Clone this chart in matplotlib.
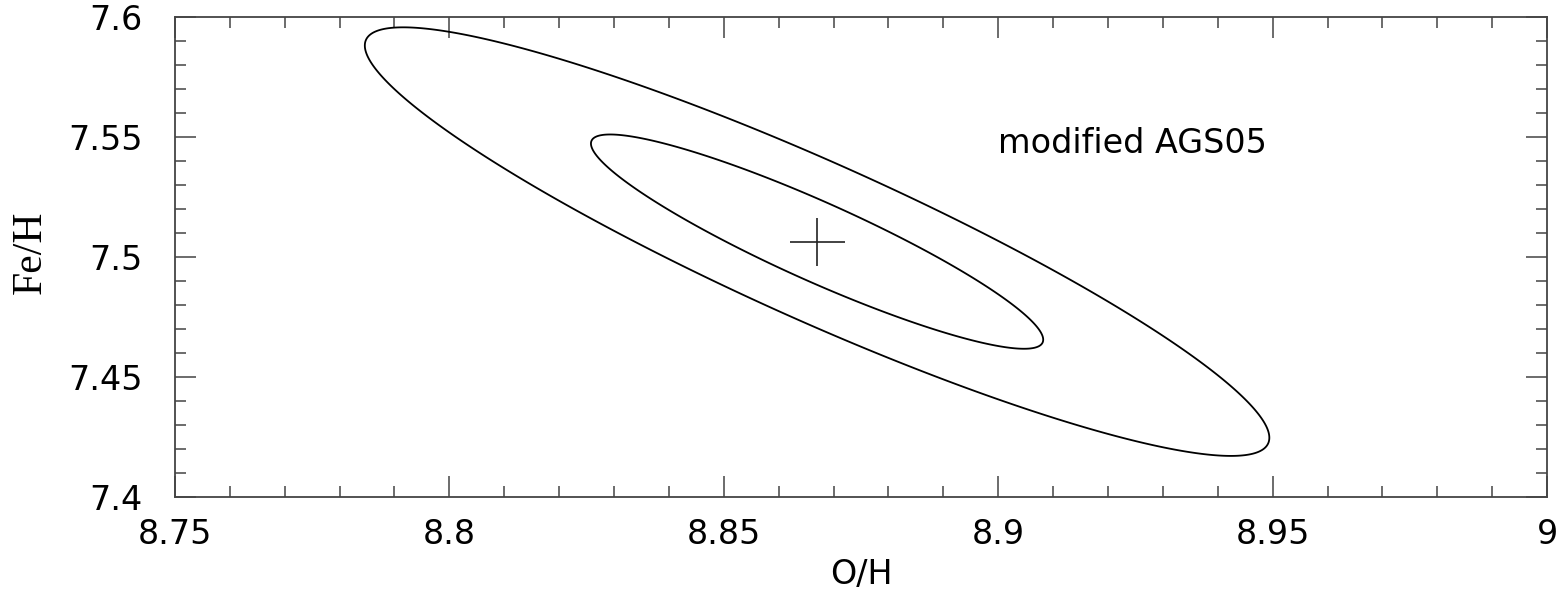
import numpy as np
import matplotlib
matplotlib.use("Agg")
import matplotlib.pyplot as plt
from matplotlib.ticker import MultipleLocator

# best fit point and its error cross
oh_best = 8.867
feh_best = 7.5063
oh_err = 0.005
feh_err = 0.010

# gaussian errors / correlation of the fit
sigma_oh = 0.0412
sigma_feh = 0.0446
rho = -0.915
dchi2_levels = [1.0, 4.0]

label_text = "modified AGS05"
label_pos = (8.9, 7.543)

# chi2 surface on a grid
oh = np.linspace(8.75, 9.0, 700)
feh = np.linspace(7.4, 7.6, 700)
X, Y = np.meshgrid(oh, feh)
dx = (X - oh_best) / sigma_oh
dy = (Y - feh_best) / sigma_feh
chi2 = (dx**2 - 2 * rho * dx * dy + dy**2) / (1 - rho**2)

fig = plt.figure(figsize=(15.66, 5.94), dpi=100)
ax = fig.add_axes([0.1117, 0.1633, 0.8762, 0.8089])

ax.contour(X, Y, chi2, levels=dchi2_levels, colors="black", linewidths=1.3)
ax.errorbar([oh_best], [feh_best], xerr=oh_err, yerr=feh_err, fmt="none",
            ecolor="#222222", elinewidth=1.2, capsize=0)

fs = 24
ax.text(label_pos[0], label_pos[1], label_text, fontsize=fs,
        family="DejaVu Sans", va="baseline", ha="left")

ax.set_xlim(8.75, 9.0)
ax.set_ylim(7.4, 7.6)
ax.xaxis.set_major_locator(MultipleLocator(0.05))
ax.xaxis.set_minor_locator(MultipleLocator(0.01))
ax.yaxis.set_major_locator(MultipleLocator(0.05))
ax.yaxis.set_minor_locator(MultipleLocator(0.01))
ax.xaxis.set_major_formatter(plt.FuncFormatter(lambda v, p: f"{v:g}"))
ax.yaxis.set_major_formatter(plt.FuncFormatter(lambda v, p: f"{v:g}"))

ax.tick_params(which="both", direction="in", top=True, right=True,
               color="#444444", width=1.1, labelsize=fs)
ax.tick_params(which="major", length=15)
ax.tick_params(which="minor", length=8)
ax.tick_params(axis="x", which="major", pad=15)
ax.tick_params(axis="y", which="major", pad=23)
for lab in ax.get_xticklabels() + ax.get_yticklabels():
    lab.set_family("DejaVu Sans")
for sp in ax.spines.values():
    sp.set_color("#444444")
    sp.set_linewidth(1.3)

ax.set_xlabel("O/H", fontsize=fs, family="DejaVu Sans", labelpad=5)
ax.set_ylabel("Fe/H", fontsize=30, family="Liberation Serif")
ax.yaxis.set_label_coords(-0.091, 0.51)

fig.savefig("out.png", dpi=100)
